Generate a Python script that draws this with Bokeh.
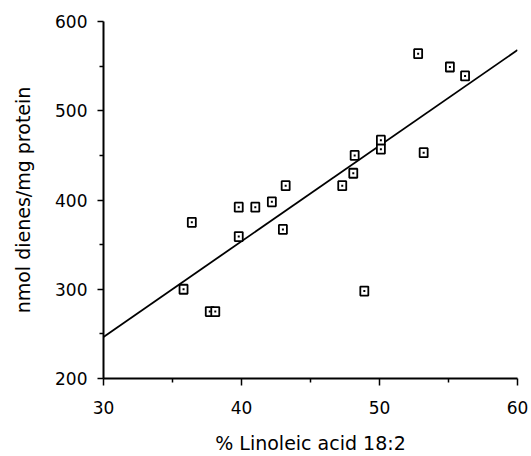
from bokeh.plotting import figure
from bokeh.models import Range1d, FixedTicker, ColumnDataSource
from bokeh.embed import file_html
from bokeh.resources import INLINE

# Data
linoleic = [52.8, 55.1, 56.2, 50.1, 50.1, 53.2, 48.2, 48.1, 47.3, 43.2,
            42.2, 39.8, 41.0, 36.4, 43.0, 39.8, 35.8, 37.7, 38.1, 48.9]
dienes = [564, 549, 539, 467, 457, 453, 450, 430, 416, 416,
          398, 392, 392, 375, 367, 359, 300, 275, 275, 298]

fit_x = [30, 60]
fit_y = [246.6, 568]

x_ticks = [30, 40, 50, 60]
x_minor = [35, 45, 55]
y_ticks = [200, 300, 400, 500, 600]
y_minor = [250, 350, 450, 550]

FONT = "DejaVu Sans"

p = figure(width=531, height=456, output_backend="svg", toolbar_location=None,
           x_range=Range1d(30, 60), y_range=Range1d(200, 600),
           min_border_left=103, min_border_right=14, min_border_top=21,
           min_border_bottom=78)
p.outline_line_color = None
p.xgrid.grid_line_color = None
p.ygrid.grid_line_color = None
p.background_fill_color = "white"
p.border_fill_color = "white"

p.line(fit_x, fit_y, line_color="black", line_width=1.8)

src = ColumnDataSource(dict(x=linoleic, y=dienes))
p.rect("x", "y", width=8, height=9, width_units="screen", height_units="screen",
       source=src, fill_color="white", line_color="black", line_width=1.8)
p.rect("x", "y", width=2, height=2, width_units="screen", height_units="screen",
       source=src, fill_color="black", line_color=None)

xa = p.xaxis[0]
xa.ticker = FixedTicker(ticks=x_ticks, minor_ticks=x_minor)
xa.axis_label = "% Linoleic acid 18:2"
ya = p.yaxis[0]
ya.ticker = FixedTicker(ticks=y_ticks, minor_ticks=y_minor)
ya.axis_label = "nmol dienes/mg protein"

for ax in (xa, ya):
    ax.axis_line_width = 2
    ax.axis_line_color = "black"
    ax.major_tick_line_color = "black"
    ax.minor_tick_line_color = "black"
    ax.major_tick_line_width = 1.5
    ax.minor_tick_line_width = 1.5
    ax.major_tick_in = 0
    ax.minor_tick_in = 0
    ax.minor_tick_out = 4
    ax.major_label_text_font = FONT
    ax.major_label_text_font_size = "17px"
    ax.major_label_text_color = "black"
    ax.axis_label_text_font = FONT
    ax.axis_label_text_font_size = "19px"
    ax.axis_label_text_font_style = "normal"
    ax.axis_label_text_color = "black"

xa.major_tick_out = 7
xa.major_label_standoff = 15
xa.axis_label_standoff = 15
ya.major_tick_out = 6
ya.major_label_standoff = 10
ya.axis_label_standoff = 18

open("out.html", "w").write(file_html(p, INLINE))
